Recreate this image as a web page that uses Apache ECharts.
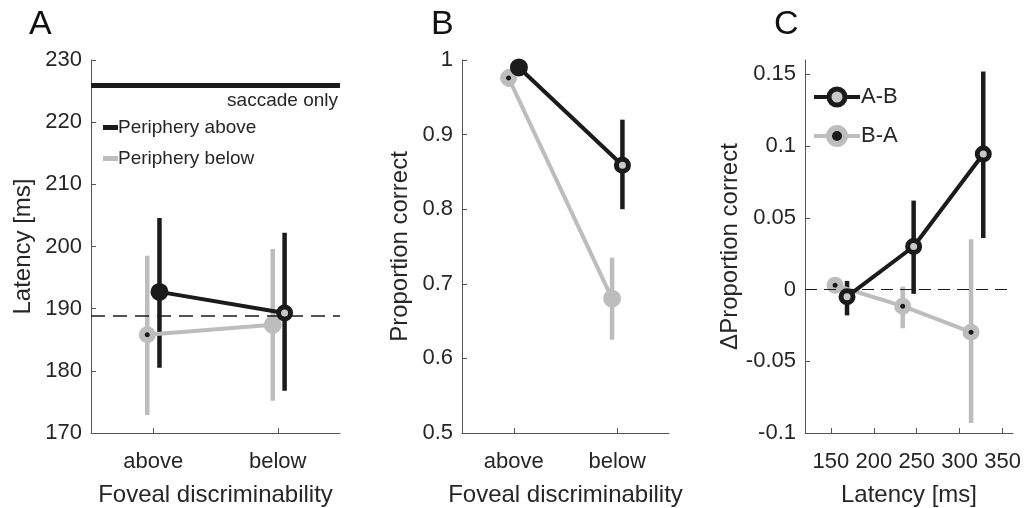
<!DOCTYPE html>
<html><head><meta charset="utf-8">
<script src="https://cdn.jsdelivr.net/npm/echarts@6/dist/echarts.min.js"></script>
<style>html,body{margin:0;padding:0;background:#fff}#c{width:1024px;height:508px}</style>
</head><body><div id="c"></div>
<script>
// ---------- data ----------
const catLabels = ['above', 'below'];
const catPos = [1, 2];
// Panel A: latency [ms]
const aAboveX = [1.05, 2.055];
const aAboveY = [192.7, 189.3];
const aAboveLo = [180.5, 176.8];
const aAboveHi = [204.6, 202.2];
const aBelowX = [0.952, 1.96];
const aBelowY = [185.8, 187.4];
const aBelowLo = [172.9, 175.2];
const aBelowHi = [198.5, 199.6];
const saccadeOnly = 226;
const aRef = 188.8;
// Panel B: proportion correct
const bAboveX = [1.05, 2.05];
const bAboveY = [0.99, 0.859];
const bAboveLo = [0.987, 0.80];
const bAboveHi = [0.993, 0.92];
const bBelowX = [0.95, 1.95];
const bBelowY = [0.976, 0.680];
const bBelowLo = [0.964, 0.625];
const bBelowHi = [0.988, 0.735];
// Panel C: delta proportion correct vs latency
const cABX = [168.9, 246.4, 327.4];
const cABY = [-0.005, 0.030, 0.0945];
const cABLo = [-0.018, -0.003, 0.036];
const cABHi = [0.006, 0.062, 0.152];
const cBAX = [155, 233.7, 313.2];
const cBAY = [0.003, -0.0116, -0.0297];
const cBALo = [0.001, -0.027, -0.093];
const cBAHi = [0.005, 0.002, 0.035];
const cTicks = [150, 200, 250, 300, 350];
const cYTicks = [-0.1, -0.05, 0, 0.05, 0.1, 0.15];

// ---------- styles ----------
const K = '#1b1b1b', G = '#bdbdbd', GC = '#c9c9c9';
const FONT = "'Liberation Sans', Arial, Helvetica, sans-serif";
const TXT = '#262626';
const AX = '#555555';
const mk = {
  blackFill: {color: K, borderColor: K, borderWidth: 4},
  blackRing: {color: GC, borderColor: K, borderWidth: 5},
  grayDot: {color: K, borderColor: G, borderWidth: 6},
  grayFill: {color: G, borderColor: G, borderWidth: 4}
};
const symSize = {blackFill: 14, blackRing: 12, grayDot: 11, grayFill: 14};

function pts(xs, ys, styles) {
  return xs.map((x, i) => ({value: [x, ys[i]], symbolSize: symSize[styles[i]], itemStyle: mk[styles[i]]}));
}
function errData(xs, lo, hi) { return xs.map((x, i) => [x, lo[i], hi[i]]); }
function errSeries(name, idx, data, color) {
  return {
    name: name, type: 'custom', xAxisIndex: idx, yAxisIndex: idx, z: 2, silent: true,
    encode: {x: 0, y: [1, 2]},
    renderItem: function (params, api) {
      const p1 = api.coord([api.value(0), api.value(1)]);
      const p2 = api.coord([api.value(0), api.value(2)]);
      return {type: 'line', shape: {x1: p1[0], y1: p1[1], x2: p2[0], y2: p2[1]},
        style: {stroke: color, lineWidth: 4.5}};
    },
    data: data
  };
}
function lineSeries(name, idx, data, color, extra) {
  return Object.assign({
    name: name, type: 'line', xAxisIndex: idx, yAxisIndex: idx, z: 3,
    symbol: 'circle', showSymbol: true, data: data, animation: false,
    lineStyle: {color: color, width: 4}, itemStyle: {color: color}
  }, extra || {});
}

const axisText = {color: TXT, fontFamily: FONT, fontSize: 22};
const nameText = {color: TXT, fontFamily: FONT, fontSize: 24};
function yAx(idx, min, max, interval, name, gap, custom) {
  const a = {
    type: 'value', gridIndex: idx, min: min, max: max, interval: interval,
    name: name, nameLocation: 'middle', nameGap: gap, nameTextStyle: nameText,
    axisLine: {show: true, lineStyle: {color: AX, width: 1}},
    axisTick: {show: true, inside: true, length: 5, lineStyle: {color: AX}},
    axisLabel: Object.assign({margin: 9}, axisText),
    splitLine: {show: false}
  };
  if (custom) {
    a.axisTick.customValues = custom;
    a.axisLabel.customValues = custom;
    a.axisLabel.formatter = v => (Math.abs(v) < 1e-9 ? '0' : String(+v.toFixed(2)));
  }
  return a;
}
function xCat(idx) {
  return {
    type: 'value', gridIndex: idx, min: 0.5, max: 2.5,
    name: 'Foveal discriminability', nameLocation: 'middle', nameGap: 50, nameTextStyle: nameText,
    axisLine: {show: true, onZero: false, lineStyle: {color: AX, width: 1}},
    axisTick: {show: true, inside: true, length: 5, customValues: catPos, lineStyle: {color: AX}},
    axisLabel: Object.assign({margin: 18, customValues: catPos, formatter: v => catLabels[Math.round(v) - 1]}, axisText),
    splitLine: {show: false}
  };
}
const titleStyle = {fontSize: 34, fontWeight: 'normal', color: '#111', fontFamily: FONT};

const option = {
  animation: false,
  backgroundColor: '#fff',
  textStyle: {fontFamily: FONT},
  title: [
    {text: 'A', left: 24, top: 3, textStyle: titleStyle},
    {text: 'B', left: 426, top: 3, textStyle: titleStyle},
    {text: 'C', left: 769, top: 3, textStyle: titleStyle}
  ],
  grid: [
    {left: 91, top: 60, width: 249, height: 373, outerBoundsMode: 'none', containLabel: false},
    {left: 462, top: 60, width: 207, height: 373, outerBoundsMode: 'none', containLabel: false},
    {left: 805, top: 60, width: 208, height: 373, outerBoundsMode: 'none', containLabel: false}
  ],
  legend: [
    {orient: 'vertical', left: 98, top: 113, itemGap: 12, itemWidth: 15, itemHeight: 5,
      textStyle: {fontFamily: FONT, fontSize: 19, color: TXT, padding: [0, 0, 0, -5]},
      data: [{name: 'Periphery above', icon: 'rect', itemStyle: {color: K, borderWidth: 0}},
             {name: 'Periphery below', icon: 'rect', itemStyle: {color: G, borderWidth: 0}}]},
    {orient: 'vertical', left: 807, top: 81, itemGap: 17, itemWidth: 46, itemHeight: 20,
      textStyle: {fontFamily: FONT, fontSize: 22, color: TXT, padding: [0, 0, 0, -4]},
      data: [
        {name: 'A-B', itemStyle: {color: GC, borderColor: K, borderWidth: 5}, lineStyle: {color: K, width: 4}},
        {name: 'B-A', itemStyle: {color: K, borderColor: G, borderWidth: 6}, lineStyle: {color: G, width: 4}}
      ]}
  ],
  xAxis: [
    xCat(0), xCat(1),
    {type: 'value', gridIndex: 2, min: 120, max: 362,
      name: 'Latency [ms]', nameLocation: 'middle', nameGap: 50, nameTextStyle: nameText,
      axisLine: {show: true, onZero: false, lineStyle: {color: AX, width: 1}},
      axisTick: {show: true, inside: true, length: 5, customValues: cTicks, lineStyle: {color: AX}},
      axisLabel: Object.assign({margin: 18, customValues: cTicks}, axisText),
      splitLine: {show: false}}
  ],
  yAxis: [
    yAx(0, 170, 230, 10, 'Latency [ms]', 56),
    yAx(1, 0.5, 1, 0.1, 'Proportion correct', 50),
    yAx(2, -0.1, 0.16, 0.05, '\u0394Proportion correct', 55, cYTicks)
  ],
  series: [
    // Panel A
    errSeries('errA2', 0, errData(aBelowX, aBelowLo, aBelowHi), G),
    lineSeries('Periphery below', 0, pts(aBelowX, aBelowY, ['grayDot', 'grayFill']), G),
    errSeries('errA1', 0, errData(aAboveX, aAboveLo, aAboveHi), K),
    lineSeries('Periphery above', 0, pts(aAboveX, aAboveY, ['blackFill', 'blackRing']), K, {
      markLine: {
        symbol: 'none', silent: true, animation: false,
        data: [
          {yAxis: saccadeOnly, lineStyle: {color: K, width: 5, type: 'solid'},
            label: {show: true, position: 'insideEndBottom', formatter: 'saccade only', distance: [2, 6],
              fontFamily: FONT, fontSize: 19, color: TXT}},
          {yAxis: aRef, lineStyle: {color: K, width: 1.6, type: [14, 8]}, label: {show: false}}
        ]
      }
    }),
    // Panel B
    errSeries('errB2', 1, errData(bBelowX, bBelowLo, bBelowHi), G),
    lineSeries('B below', 1, pts(bBelowX, bBelowY, ['grayDot', 'grayFill']), G),
    errSeries('errB1', 1, errData(bAboveX, bAboveLo, bAboveHi), K),
    lineSeries('B above', 1, pts(bAboveX, bAboveY, ['blackFill', 'blackRing']), K),
    // Panel C
    errSeries('errC2', 2, errData(cBAX, cBALo, cBAHi), G),
    lineSeries('B-A', 2, pts(cBAX, cBAY, ['grayDot', 'grayDot', 'grayDot']), G, {
      itemStyle: Object.assign({}, mk.grayDot), symbolSize: 11,
      markLine: {symbol: 'none', silent: true, animation: false,
        data: [{yAxis: 0, lineStyle: {color: K, width: 1.2, type: [12, 7]}, label: {show: false}}]}
    }),
    errSeries('errC1', 2, errData(cABX, cABLo, cABHi), K),
    lineSeries('A-B', 2, pts(cABX, cABY, ['blackRing', 'blackRing', 'blackRing']), K, {
      itemStyle: Object.assign({}, mk.blackRing), symbolSize: 12
    })
  ]
};
const chart = echarts.init(document.getElementById('c'), null, {renderer: 'canvas'});
chart.setOption(option);
</script></body></html>
